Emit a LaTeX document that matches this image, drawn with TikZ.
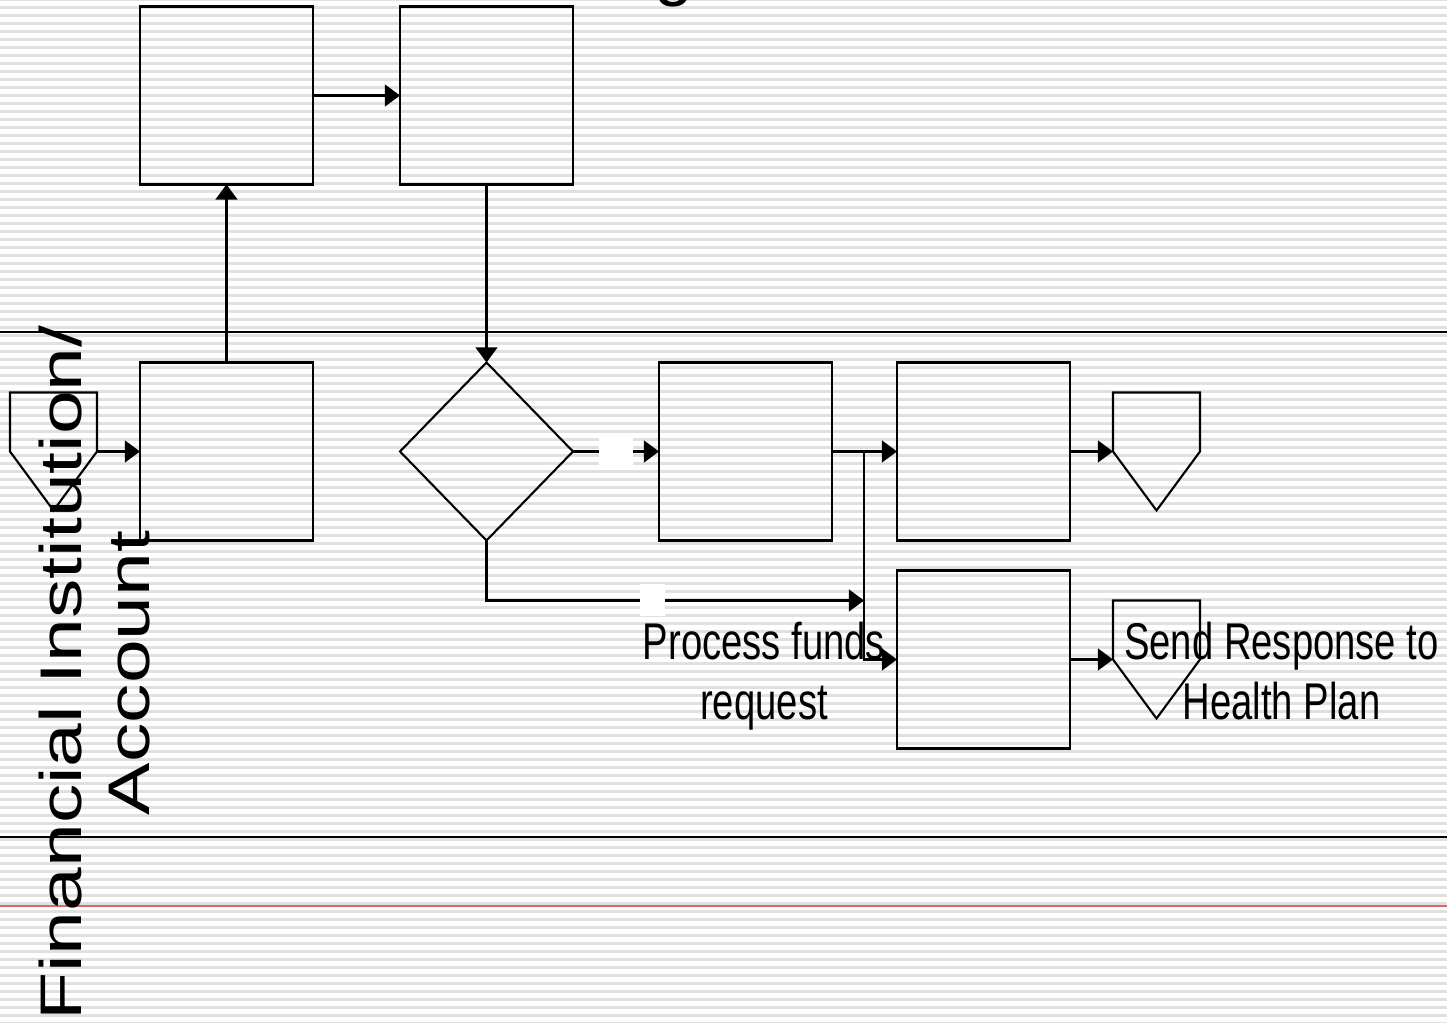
\documentclass[tikz,border=0pt]{standalone}
\usepackage{fontspec}
\setmainfont{Liberation Sans}
\newfontfamily\narrowfont[FakeStretch=0.74]{Liberation Sans}
\newfontfamily\widefont[FakeStretch=1.34]{Liberation Sans}
\usetikzlibrary{arrows.meta, positioning, shapes.geometric, calc}
\definecolor{stripegray}{gray}{0.88}
\definecolor{marginred}{RGB}{212,106,106}

\begin{document}
\begin{tikzpicture}[
    node distance=0.87cm and 0.87cm,
    every node/.style={inner sep=0pt, outer sep=0pt},
    task/.style={draw, line width=0.6pt, minimum width=1.73cm, minimum height=1.78cm},
    decision/.style={draw, diamond, line width=0.6pt, minimum width=1.73cm, minimum height=1.78cm},
    offpage/.style={line width=0.6pt, line join=miter},
    blank/.style={fill=white, minimum width=0.34cm, minimum height=0.28cm},
    arrow/.style={-{Triangle[length=4.3pt, width=6.2pt]}, line width=0.6pt},
    lane/.style={line width=0.7pt},
    steptext/.style={font=\narrowfont\fontsize{14.7}{17.1}\selectfont, align=center, anchor=north}
]
\useasboundingbox (0,0) rectangle (14.47,10.22);

% Lined paper background
\foreach \k in {0,...,128}
    \fill[stripegray] (0,{10.22-(8*\k-1.7)/100}) rectangle ++(14.47,-0.023);

% Swim lane borders
\draw[lane] (0,6.90) -- (14.47,6.90);
\draw[lane] (0,1.85) -- (14.47,1.85);
\draw[marginred, line width=0.45pt] (0,1.16) -- (14.47,1.16);

% Heading (cut off at the top)
\node[font=\fontsize{20}{24}\selectfont, anchor=base] (title) at (6.74,10.29) {g};

% Upper lane
\node[task] (top1) at (2.265,9.265) {};
\node[task, right=of top1] (top2) {};

% Financial institution lane
\node[task, below=1.78cm of top1] (recv) {};
\node[decision, below=1.78cm of top2] (dec) {};
\node[task, right=0.86cm of dec] (proc) {};
\node[task, right=0.65cm of proc] (ok) {};
\node[task, below=0.30cm of ok] (alt) {};

% Off-page connectors (corner points)
\coordinate[left=0.43cm of recv] (in);
\coordinate[right=0.43cm of ok] (out1);
\coordinate[right=0.43cm of alt] (out2);
\foreach \c/\dx in {in/-0.87, out1/0, out2/0}
    \draw[offpage] ($(\c)+(\dx,0)$) -- ++(0,0.59) -- ++(0.87,0) -- ++(0,-0.59)
        -- ++(-0.435,-0.59) -- cycle;

\node[font=\widefont\fontsize{16.7}{19.3}\selectfont, align=center, rotate=90, anchor=north] (lanename) at (0.39,3.49) {Financial Institution/\\Account};
\node[steptext] (proclabel) at (7.64,4.00) {Process funds\\request};
\node[steptext] (sendlabel) at (12.815,4.00) {Send Response to\\Health Plan};

\coordinate[right=0.32cm of proc] (split);
\coordinate[below=1.49cm of split] (merge);

% Flow
\draw[arrow] (top1) -- (top2);
\draw[arrow] (recv) -- (top1);
\draw[arrow] (top2) -- (dec);
\draw[arrow] (in) -- (recv);
\draw[arrow] (dec) -- node[blank]{} (proc);
\draw[arrow] (dec.south) |- node[blank, pos=0.72, minimum width=0.25cm, minimum height=0.32cm]{} (merge);
\draw[arrow] (proc) -- (ok);
\draw[arrow] (split) |- (alt);
\draw[arrow] (ok) -- (out1);
\draw[arrow] (alt) -- (out2);

\end{tikzpicture}
\end{document}
